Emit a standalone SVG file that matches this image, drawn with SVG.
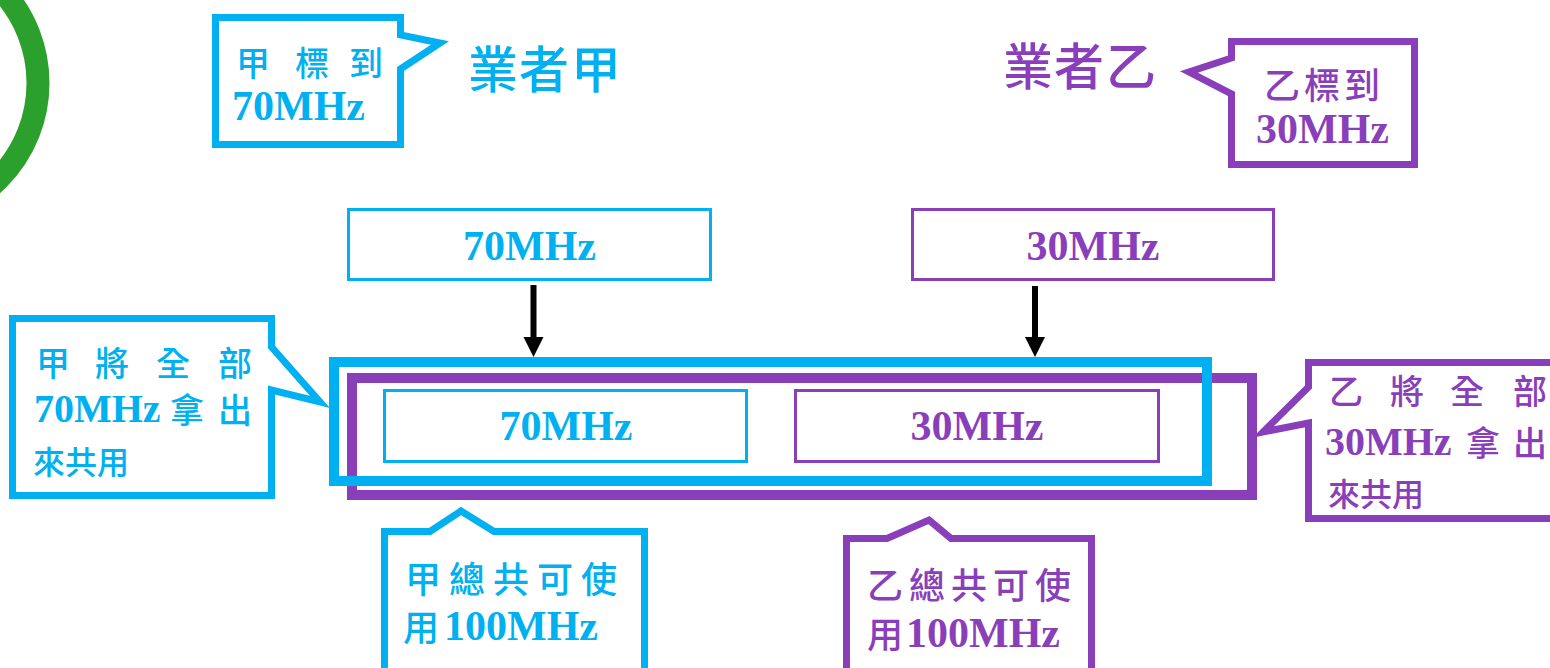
<svg xmlns="http://www.w3.org/2000/svg" width="1550" height="668" viewBox="0 0 1550 668">
<style>
.bl{stroke:#00b0f0;fill:#fff}
.pu{stroke:#8a3fba;fill:#fff}
.tb{fill:#00b0f0}
.tp{fill:#8a3fba}
.cjk{font-family:"Noto Sans CJK TC","Noto Sans CJK SC",sans-serif;font-weight:500}
.lat{font-family:"Liberation Serif",serif;font-weight:bold}
</style>
<circle cx="-98" cy="83" r="136" fill="none" stroke="#2ca02c" stroke-width="23"/>

<g id="callout-jia-bid">
<path class="bl" stroke-width="7" d="M215.5,17.5 H400.5 V35 L440,43 L400.5,69 V144.5 H215.5 Z"/>
<text class="cjk tb" font-size="34" x="236 295 349" y="76">甲標到</text>
<text class="lat tb" font-size="42" x="232" y="120">70MHz</text>
</g>
<g id="label-jia">
<text class="cjk tb" font-size="50" x="468 519 571" y="88">業者甲</text>
</g>
<g id="label-yi">
<text class="cjk tp" font-size="50" x="1003 1054 1106" y="85">業者乙</text>
</g>
<g id="callout-yi-bid">
<path class="pu" stroke-width="7" d="M1231.5,41.5 H1414.5 V164.5 H1231.5 V94 L1189,72 L1231.5,58 Z"/>
<text class="cjk tp" font-size="36" x="1264 1304 1344" y="99">乙標到</text>
<text class="lat tp" font-size="42" x="1256" y="143">30MHz</text>
</g>

<g id="box-70-top">
<rect class="bl" stroke-width="3" x="348.5" y="209.5" width="362" height="70"/>
<text class="lat tb" font-size="42" x="529.5" y="260" text-anchor="middle">70MHz</text>
</g>
<g id="box-30-top">
<rect class="pu" stroke-width="3" x="912.5" y="209.5" width="361" height="70"/>
<text class="lat tp" font-size="42" x="1093" y="260" text-anchor="middle">30MHz</text>
</g>

<g id="frame-yi">
<rect x="352" y="378" width="900" height="117" fill="none" stroke="#8a3fba" stroke-width="10"/>
</g>
<g id="frame-jia">
<rect x="334" y="362" width="873" height="119" fill="none" stroke="#00b0f0" stroke-width="10"/>
</g>
<g id="box-70-inner">
<rect class="bl" stroke-width="3" x="384.5" y="390.5" width="362" height="71"/>
<text class="lat tb" font-size="42" x="566" y="440" text-anchor="middle">70MHz</text>
</g>
<g id="box-30-inner">
<rect class="pu" stroke-width="3" x="795.5" y="390.5" width="363" height="71"/>
<text class="lat tp" font-size="42" x="977" y="440" text-anchor="middle">30MHz</text>
</g>

<g id="connectors">
<line x1="533.5" y1="285" x2="533.5" y2="338" stroke="#000" stroke-width="6"/>
<polygon points="523.5,337 543.5,337 533.5,357" fill="#000"/>
<line x1="1035" y1="286" x2="1035" y2="338" stroke="#000" stroke-width="6"/>
<polygon points="1025,337 1045,337 1035,357" fill="#000"/>
</g>

<g id="callout-jia-share">
<path class="bl" stroke-width="7" d="M12.5,318.5 H271.5 V347 L320,402 L271.5,390 V495.5 H12.5 Z"/>
<text class="cjk tb" font-size="34" x="36 95 156 218" y="376">甲將全部</text>
<text class="lat tb" font-size="40" x="34" y="422">70MHz</text>
<text class="cjk tb" font-size="34" x="170 218" y="423">拿出</text>
<text class="cjk tb" font-size="32" x="33 65 97" y="474">來共用</text>
</g>
<g id="callout-yi-share">
<path class="pu" stroke-width="7" d="M1560,362.5 H1308.5 V387 L1263,432 L1308.5,423 V518.5 H1560"/>
<text class="cjk tp" font-size="34" x="1329 1390 1450 1513" y="404">乙將全部</text>
<text class="lat tp" font-size="40" x="1325" y="455">30MHz</text>
<text class="cjk tp" font-size="34" x="1466 1513" y="456">拿出</text>
<text class="cjk tp" font-size="32" x="1328 1360 1392" y="506">來共用</text>
</g>

<g id="callout-jia-total">
<path class="bl" stroke-width="7" d="M384.5,680 V531.5 H430 L461,511 L494,531.5 H644.5 V680"/>
<text class="cjk tb" font-size="36" x="405 449 493 537 581" y="593">甲總共可使</text>
<text class="cjk tb" font-size="36" x="403" y="641">用</text>
<text class="lat tb" font-size="42" x="444" y="640">100MHz</text>
</g>
<g id="callout-yi-total">
<path class="pu" stroke-width="7" d="M846.5,680 V538.5 H887 L929,520 L951,538.5 H1091.5 V680"/>
<text class="cjk tp" font-size="36" x="867 909 951 993 1035" y="599">乙總共可使</text>
<text class="cjk tp" font-size="36" x="867" y="648">用</text>
<text class="lat tp" font-size="42" x="906" y="647">100MHz</text>
</g>
</svg>
